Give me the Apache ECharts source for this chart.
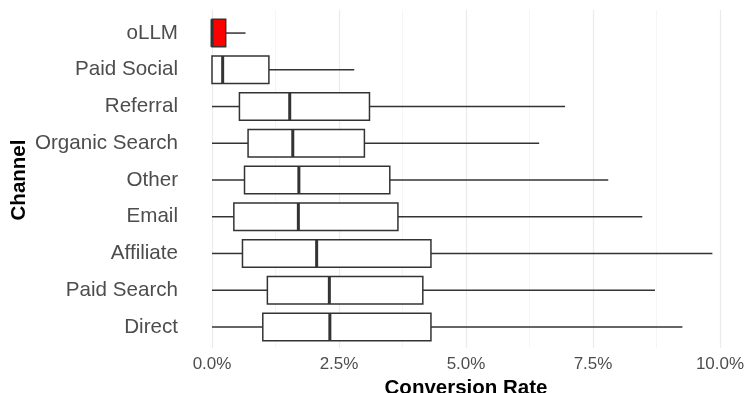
<!DOCTYPE html>
<html><head><meta charset="utf-8">
<script src="https://cdn.jsdelivr.net/npm/echarts@6/dist/echarts.min.js"></script>
<style>html,body{margin:0;padding:0;background:#fff}#c{width:745px;height:393px}</style>
</head><body><div id="c"></div>
<script>
// Data (percent values), top-to-bottom order
const channels = ['oLLM','Paid Social','Referral','Organic Search','Other','Email','Affiliate','Paid Search','Direct'];
const whiskerLow  = [0, 0, 0, 0, 0, 0, 0, 0, 0];
const q1          = [0, 0, 0.54, 0.71, 0.64, 0.43, 0.60, 1.09, 1.00];
const median      = [0, 0.21, 1.53, 1.59, 1.71, 1.70, 2.06, 2.31, 2.32];
const q3          = [0.27, 1.12, 3.10, 3.00, 3.50, 3.66, 4.31, 4.15, 4.31];
const whiskerHigh = [0.66, 2.80, 6.95, 6.44, 7.80, 8.47, 9.85, 8.72, 9.26];
const highlighted = ['oLLM'];
const xTickLabels = ['0.0%','2.5%','5.0%','7.5%','10.0%'];

const FONT = '"Liberation Sans", Arial, Helvetica, sans-serif';
const chart = echarts.init(document.getElementById('c'), null, {renderer:'canvas'});
const boxData = channels.map((c,i)=>[i, whiskerLow[i], q1[i], median[i], q3[i], whiskerHigh[i]]);

chart.setOption({
  animation:false,
  backgroundColor:'#ffffff',
  grid:[
    {left:212, right:25, top:14.7, bottom:47.7, outerBoundsMode:'none', containLabel:false},
    {left:212, right:25, top:10, bottom:45, outerBoundsMode:'none', containLabel:false}
  ],
  xAxis:[
    {gridIndex:0, type:'value', min:0, max:10, show:false},
    {gridIndex:1, type:'value', min:0, max:10, interval:2.5,
     axisLine:{show:false}, axisTick:{show:false},
     splitLine:{show:true, lineStyle:{color:'#ebebeb', width:1.2}},
     minorTick:{show:false, splitNumber:2},
     minorSplitLine:{show:true, lineStyle:{color:'#f3f3f3', width:0.8}},
     axisLabel:{margin:8, fontSize:17, color:'#4d4d4d', fontFamily:FONT,
       formatter:(v)=>xTickLabels[Math.round(v/2.5)]},
     name:'Conversion Rate', nameLocation:'middle', nameGap:25,
     nameTextStyle:{fontSize:20.5, fontWeight:'bold', color:'#000', fontFamily:FONT}
    }
  ],
  yAxis:[
    {gridIndex:0, type:'category', data:channels, inverse:true,
     axisLine:{show:false}, axisTick:{show:false}, splitLine:{show:false},
     axisLabel:{margin:34, fontSize:20.6, color:'#4d4d4d', fontFamily:FONT},
     name:'Channel', nameLocation:'middle', nameRotate:90, nameGap:182, nameMoveOverlap:false,
     nameTextStyle:{fontSize:20.5, fontWeight:'bold', color:'#000', fontFamily:FONT}
    },
    {gridIndex:1, type:'value', show:false, min:0, max:1}
  ],
  series:[{
    type:'custom', xAxisIndex:0, yAxisIndex:0,
    encode:{x:[1,2,3,4,5], y:0},
    data:boxData,
    renderItem:function(params, api){
      const ci = api.value(0);
      const lo = api.coord([api.value(1), ci]);
      const a  = api.coord([api.value(2), ci]);
      const m  = api.coord([api.value(3), ci]);
      const b  = api.coord([api.value(4), ci]);
      const hi = api.coord([api.value(5), ci]);
      const h = api.size([0,1])[1]*0.75;
      const y = a[1];
      const fill = highlighted.indexOf(channels[ci])>=0 ? '#FF0000' : '#FFFFFF';
      const ls = {stroke:'#333333', lineWidth:1.5};
      return {type:'group', children:[
        {type:'line', shape:{x1:lo[0],y1:y,x2:a[0],y2:y}, style:ls},
        {type:'line', shape:{x1:b[0],y1:y,x2:hi[0],y2:y}, style:ls},
        {type:'rect', shape:{x:a[0], y:y-h/2, width:b[0]-a[0], height:h}, style:{fill:fill, stroke:'#333333', lineWidth:1.5}},
        {type:'line', shape:{x1:m[0],y1:y-h/2,x2:m[0],y2:y+h/2}, style:{stroke:'#333333', lineWidth:3}}
      ]};
    }
  }]
});
</script></body></html>
